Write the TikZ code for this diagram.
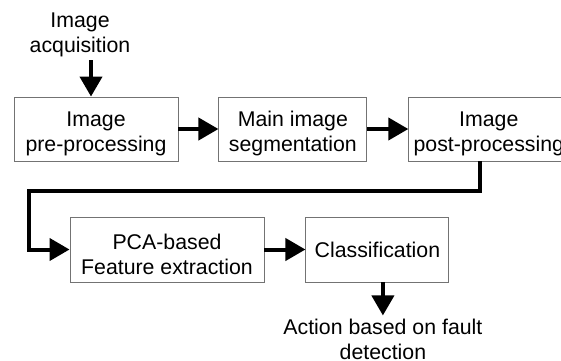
\documentclass[tikz,border=0pt]{standalone}
\usepackage{fontspec}
\setmainfont{Liberation Sans}
\usetikzlibrary{positioning, arrows.meta}

\newcommand{\toppad}{\rule{0pt}{25pt}}

\begin{document}
\begin{tikzpicture}[
    x=1pt, y=1pt,
    node distance=40pt and 40pt,
    box/.style={draw=black!55, line width=0.9pt, align=center, minimum height=64pt, inner sep=2pt, font=\fontsize{21.3}{25}\selectfont},
    lbl/.style={align=center, inner sep=3pt, font=\fontsize{21.3}{25}\selectfont},
    arr/.style={line width=4pt, -{Triangle[length=20pt, width=22pt]}}
]
\useasboundingbox (0,0) rectangle (561,-360);

\node[box, minimum width=164pt] (pre) at (96,-129) {\toppad Image\\pre-processing};
\node[box, minimum width=148pt, right=40pt of pre] (seg) {\toppad Main image\\segmentation};
\node[box, minimum width=160pt, right=41pt of seg] (post) {\toppad Image\\post-processing};

\node[lbl, above=36.5pt of pre, xshift=-16pt] (acq) {Image\\acquisition};

\node[box, minimum width=194pt, minimum height=65pt] (pca) at (167,-249.5) {\toppad PCA-based\\Feature extraction};
\node[box, minimum width=143pt, minimum height=65pt, right=41pt of pca] (cls) {Classification};

\node[lbl, below=33pt of cls, xshift=5.5pt] (act) {Action based on fault\\detection};

\coordinate (turn) at (29,-191);

\draw[arr] ([xshift=-5pt]pre.north |- acq.south) -- ([xshift=-5pt]pre.north);
\draw[arr] (pre) -- (seg);
\draw[arr] (seg) -- (post);
\draw[arr] ([xshift=-9pt]post.south) |- (turn) |- (pca.west);
\draw[arr] (pca) -- (cls);
\draw[arr] (cls.south -| act.north) -- (act.north);
\end{tikzpicture}
\end{document}
